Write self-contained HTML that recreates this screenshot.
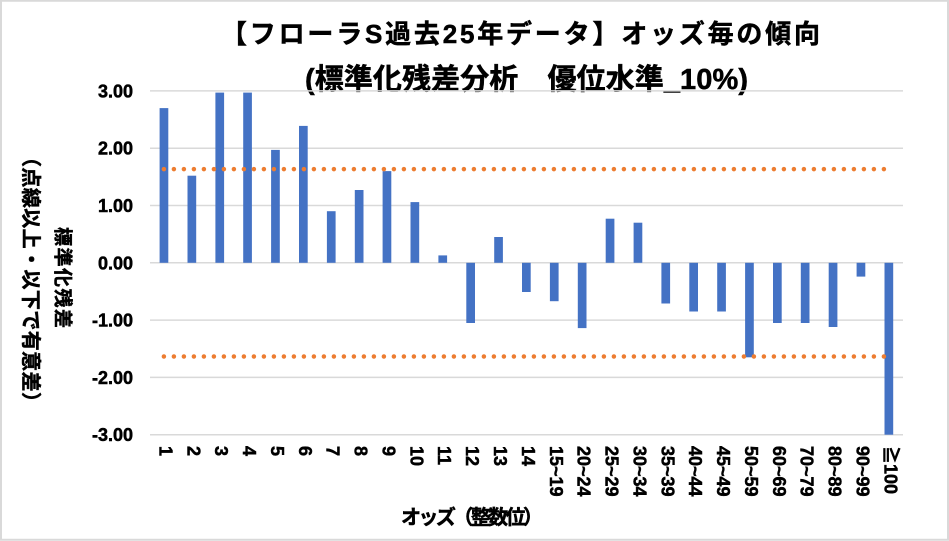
<!DOCTYPE html>
<html>
<head>
<meta charset="utf-8">
<style>
html,body{margin:0;padding:0;background:#fff;}
svg{display:block;}
text{font-family:"Liberation Sans","Noto Sans CJK JP",sans-serif;font-weight:bold;fill:#000;}
.h{stroke:#000;stroke-width:0.5;}
</style>
</head>
<body>
<svg width="949" height="541" viewBox="0 0 949 541" xmlns="http://www.w3.org/2000/svg">
<rect x="0" y="0" width="949" height="541" fill="#fff"/>
<rect x="1" y="0.75" width="947" height="539" fill="none" stroke="#d9d9d9" stroke-width="2"/>

<!-- Title -->
<text class="h" x="221" y="43" font-size="26" textLength="599" lengthAdjust="spacing">【フローラS過去25年データ】オッズ毎の傾向</text>
<text class="h" x="305" y="89" font-size="29" textLength="443" lengthAdjust="spacing">(標準化残差分析　優位水準_10%)</text>

<!-- Gridlines -->
<g stroke="#d9d9d9" stroke-width="1.5">
<line x1="150" y1="90.9" x2="903" y2="90.9"/>
<line x1="150" y1="148.2" x2="903" y2="148.2"/>
<line x1="150" y1="205.5" x2="903" y2="205.5"/>
<line x1="150" y1="262.8" x2="903" y2="262.8"/>
<line x1="150" y1="320.1" x2="903" y2="320.1"/>
<line x1="150" y1="377.4" x2="903" y2="377.4"/>
<line x1="150" y1="434.7" x2="903" y2="434.7"/>
</g>

<!-- Y labels -->
<g font-size="18" text-anchor="end" class="h">
<text x="133" y="97.4">3.00</text>
<text x="133" y="154.7">2.00</text>
<text x="133" y="212">1.00</text>
<text x="133" y="269.3">0.00</text>
<text x="133" y="326.6">-1.00</text>
<text x="133" y="383.9">-2.00</text>
<text x="133" y="441.2">-3.00</text>
</g>

<!-- Bars -->
<g fill="#4472c4">
<rect x="159.6" y="108.1" width="8.7" height="154.7"/>
<rect x="187.5" y="175.7" width="8.7" height="87.1"/>
<rect x="215.4" y="92.6" width="8.7" height="170.2"/>
<rect x="243.2" y="92.6" width="8.7" height="170.2"/>
<rect x="271.1" y="149.9" width="8.7" height="112.9"/>
<rect x="299.0" y="125.9" width="8.7" height="136.9"/>
<rect x="326.9" y="211.2" width="8.7" height="51.6"/>
<rect x="354.8" y="190.0" width="8.7" height="72.8"/>
<rect x="382.6" y="171.1" width="8.7" height="91.7"/>
<rect x="410.5" y="202.1" width="8.7" height="60.7"/>
<rect x="438.4" y="255.4" width="8.7" height="7.4"/>
<rect x="466.3" y="262.8" width="8.7" height="60.2"/>
<rect x="494.2" y="237.0" width="8.7" height="25.8"/>
<rect x="522.0" y="262.8" width="8.7" height="29.2"/>
<rect x="549.9" y="262.8" width="8.7" height="38.4"/>
<rect x="577.8" y="262.8" width="8.7" height="65.3"/>
<rect x="605.7" y="218.7" width="8.7" height="44.1"/>
<rect x="633.6" y="222.7" width="8.7" height="40.1"/>
<rect x="661.4" y="262.8" width="8.7" height="40.7"/>
<rect x="689.3" y="262.8" width="8.7" height="48.7"/>
<rect x="717.2" y="262.8" width="8.7" height="48.7"/>
<rect x="745.1" y="262.8" width="8.7" height="94.5"/>
<rect x="773.0" y="262.8" width="8.7" height="60.2"/>
<rect x="800.8" y="262.8" width="8.7" height="60.2"/>
<rect x="828.7" y="262.8" width="8.7" height="64.2"/>
<rect x="856.6" y="262.8" width="8.7" height="13.8"/>
<rect x="884.5" y="262.8" width="8.7" height="171.9"/>
</g>

<!-- Threshold dotted lines -->
<g stroke="#ed7d31" stroke-width="4.5" stroke-linecap="round" stroke-dasharray="0 10">
<line x1="163.9" y1="169.1" x2="888.8" y2="169.1"/>
<line x1="163.9" y1="356.5" x2="888.8" y2="356.5"/>
</g>

<!-- X labels -->
<g font-size="18" class="h">
<text transform="translate(159.4,446) rotate(90)">1</text>
<text transform="translate(187.3,446) rotate(90)">2</text>
<text transform="translate(215.2,446) rotate(90)">3</text>
<text transform="translate(243.1,446) rotate(90)">4</text>
<text transform="translate(271.0,446) rotate(90)">5</text>
<text transform="translate(298.8,446) rotate(90)">6</text>
<text transform="translate(326.7,446) rotate(90)">7</text>
<text transform="translate(354.6,446) rotate(90)">8</text>
<text transform="translate(382.5,446) rotate(90)">9</text>
<text transform="translate(410.4,446) rotate(90)">10</text>
<text transform="translate(438.2,446) rotate(90)">11</text>
<text transform="translate(466.1,446) rotate(90)">12</text>
<text transform="translate(494.0,446) rotate(90)">13</text>
<text transform="translate(521.9,446) rotate(90)">14</text>
<text transform="translate(549.8,446) rotate(90)">15~19</text>
<text transform="translate(577.6,446) rotate(90)">20~24</text>
<text transform="translate(605.5,446) rotate(90)">25~29</text>
<text transform="translate(633.4,446) rotate(90)">30~34</text>
<text transform="translate(661.3,446) rotate(90)">35~39</text>
<text transform="translate(689.2,446) rotate(90)">40~44</text>
<text transform="translate(717.0,446) rotate(90)">45~49</text>
<text transform="translate(744.9,446) rotate(90)">50~59</text>
<text transform="translate(772.8,446) rotate(90)">60~69</text>
<text transform="translate(800.7,446) rotate(90)">70~79</text>
<text transform="translate(828.6,446) rotate(90)">80~89</text>
<text transform="translate(856.4,446) rotate(90)">90~99</text>
<text transform="translate(884.3,446) rotate(90)">≧100</text>
</g>

<!-- X axis title -->
<text class="h" x="401" y="524" font-size="20" textLength="142" lengthAdjust="spacing">オッズ（整数位）</text>

<!-- Y axis title -->
<text class="h" transform="translate(62,277.5) rotate(90)" font-size="19" text-anchor="middle" dominant-baseline="central" textLength="101" lengthAdjust="spacing">標準化残差</text>
<text class="h" transform="translate(30,279.5) rotate(90)" font-size="20" text-anchor="middle" dominant-baseline="central" textLength="265" lengthAdjust="spacing">（点線以上・以下で有意差）</text>
</svg>
</body>
</html>
